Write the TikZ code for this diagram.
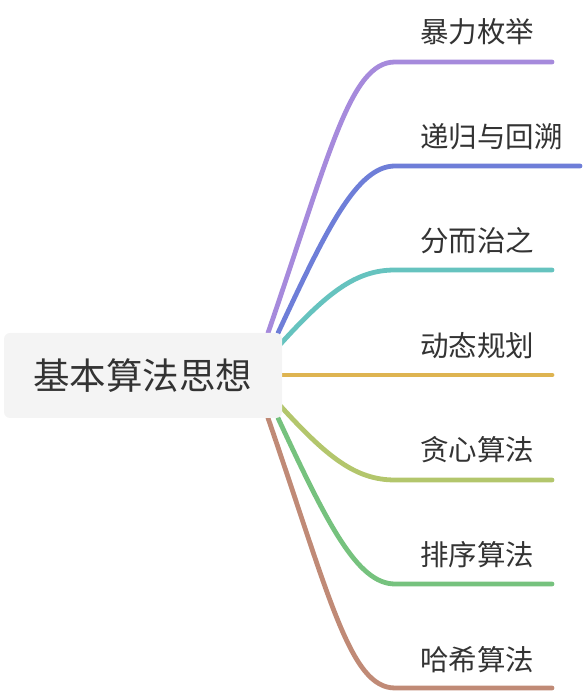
\documentclass[tikz,border=0pt]{standalone}
\usepackage{fontspec}
\setmainfont{Noto Sans CJK SC}
\definecolor{purp}{HTML}{A68ADC}
\definecolor{blu}{HTML}{6E7ED8}
\definecolor{teal}{HTML}{66C3BF}
\definecolor{gold}{HTML}{DEB451}
\definecolor{lime}{HTML}{B3C66C}
\definecolor{gren}{HTML}{76C27E}
\definecolor{brwn}{HTML}{C08A76}
\definecolor{rootbg}{HTML}{F4F4F4}
\definecolor{txt}{HTML}{333333}
\tikzset{
	branch/.style={draw=#1,line width=4.8pt,line cap=round},
	rootbox/.style={fill=rootbg,rounded corners=6pt,minimum width=278pt,minimum height=85pt,inner sep=0pt,text=txt,font=\fontsize{36.5}{42}\selectfont},
	leaf/.style={anchor=west,inner sep=0pt,text=txt,font=\fontsize{28.5}{33}\selectfont}
}
\begin{document}
\begin{tikzpicture}[x=1pt,y=1pt]
	\useasboundingbox (0,0) rectangle (582,694);
	% start, bend and end of each branch
	\coordinate (s1) at (268,361); \coordinate (e1) at (395,632); \coordinate (t1) at (552,632);
	\coordinate (s2) at (278,361); \coordinate (e2) at (395,528); \coordinate (t2) at (580,528);
	\coordinate (s3) at (276,345); \coordinate (e3) at (395,424); \coordinate (t3) at (552,424);
	\coordinate (s4) at (270,319); \coordinate (t4) at (552,319);
	\coordinate (s5) at (276,293); \coordinate (e5) at (395,214); \coordinate (t5) at (552,214);
	\coordinate (s6) at (278,276); \coordinate (e6) at (395,110); \coordinate (t6) at (552,110);
	\coordinate (s7) at (268,276); \coordinate (e7) at (395,6); \coordinate (t7) at (552,6);
	\draw[branch=purp] (s1) .. controls +(71:190) and +(-45,0) .. (e1) -- (t1);
	\draw[branch=blu] (s2) .. controls +(65:115) and +(-38,0) .. (e2) -- (t2);
	\draw[branch=teal] (s3) .. controls +(48:75) and +(-40,0) .. (e3) -- (t3);
	\draw[branch=gold] (s4) -- (t4);
	\draw[branch=lime] (s5) .. controls +(-48:75) and +(-40,0) .. (e5) -- (t5);
	\draw[branch=gren] (s6) .. controls +(-65:115) and +(-38,0) .. (e6) -- (t6);
	\draw[branch=brwn] (s7) .. controls +(-71:190) and +(-45,0) .. (e7) -- (t7);
	% root on top
	\node[rootbox] (root) at (143,318.5) {基本算法思想};
	% labels
	\node[leaf] (l1) at (420,662) {暴力枚举};
	\node[leaf] (l2) at (420,557) {递归与回溯};
	\node[leaf] (l3) at (420,453) {分而治之};
	\node[leaf] (l4) at (420,348) {动态规划};
	\node[leaf] (l5) at (420,244) {贪心算法};
	\node[leaf] (l6) at (420,139) {排序算法};
	\node[leaf] (l7) at (420,34) {哈希算法};
\end{tikzpicture}
\end{document}
